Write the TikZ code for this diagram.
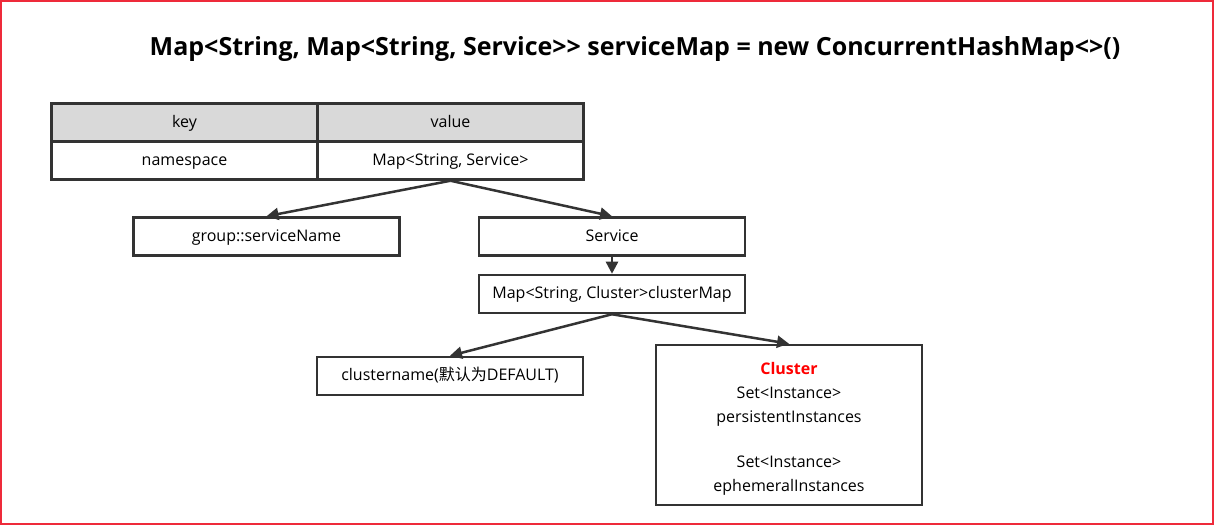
\documentclass[tikz,border=0pt]{standalone}
\usepackage{fontspec}
\setmainfont{Open Sans}
\newfontfamily\cjk{Noto Sans CJK SC}
\usetikzlibrary{arrows.meta}
\definecolor{boxline}{HTML}{333333}
\definecolor{headfill}{HTML}{D9D9D9}
\definecolor{frameRed}{HTML}{EE2A3A}
\begin{document}
\begin{tikzpicture}[x=1pt,y=-1pt,
    box/.style={draw=boxline,line width=2.5pt,minimum width=266pt,minimum height=38pt,inner sep=0pt,text height=13pt,text depth=3pt,font=\fontsize{16}{18}\selectfont},
    head/.style={box,fill=headfill},
    link/.style={draw=boxline,line width=2.5pt,-{Triangle[length=12pt,width=12pt]}}]
    \useasboundingbox (0,0) rectangle (1215,526);
    \draw [frameRed,line width=2pt] (1,1) rectangle (1213,524);% outer frame
    \node [font=\bfseries\fontsize{25}{28}\selectfont] (Title) at (635,49) {Map<String, Map<String, Service>{}> serviceMap = new ConcurrentHashMap<>()};
    % the map table
    \node [head] (KeyHead)   at (184.5,122.5) {key};
    \node [head] (ValueHead) at (450.5,122.5) {value};
    \node [box]  (KeyCell)   at (184.5,160.5) {namespace};
    \node [box]  (ValueCell) at (450.5,160.5) {Map<String, Service>};
    % inner map
    \node [box] (GroupName)  at (266.5,236.5) {group::serviceName};
    \node [box] (Service)    at (612,236.5) {Service};
    \node [box] (ClusterMap) at (612,294) {Map<String, Cluster>clusterMap};
    \node [box] (ClusterName) at (450,376) {clustername({\cjk 默认为}DEFAULT)};
    \node [box,minimum height=160pt,text height=,text depth=,align=center,font=\fontsize{16}{24}\selectfont] (Cluster) at (789,425)
      {{\color{red}\bfseries Cluster}\\Set<Instance>\\persistentInstances\\[21pt]Set<Instance>\\ephemeralInstances\\[-28pt]{}};
    \draw [link] (ValueCell.south) -- (GroupName.north);
    \draw [link] (ValueCell.south) -- (Service.north);
    \draw [link] (Service.south) -- (ClusterMap.north);
    \draw [link] (ClusterMap.south) -- (ClusterName.north);
    \draw [link] (ClusterMap.south) -- (Cluster.north);
  \end{tikzpicture}
\end{document}
